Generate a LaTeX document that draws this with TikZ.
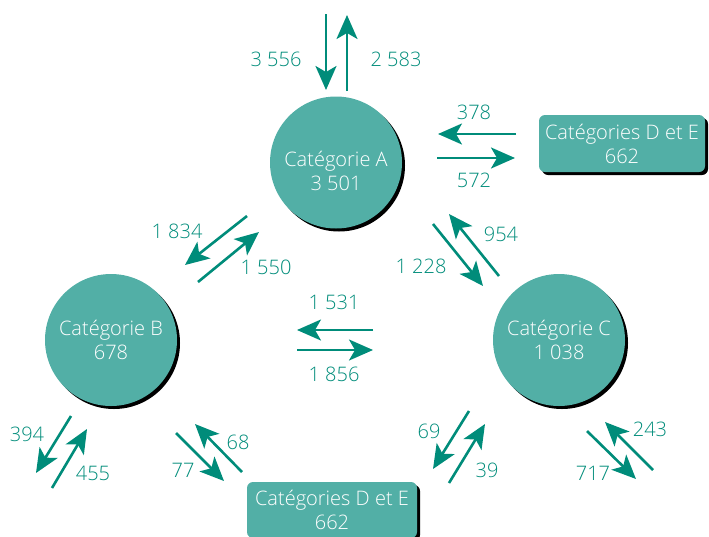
\documentclass[tikz,border=0pt]{standalone}
\usepackage{fontspec}
\setmainfont{Open Sans}[UprightFont=* Light]
\usetikzlibrary{arrows.meta,shadows}
\definecolor{flux}{HTML}{008C7A}
\definecolor{categ}{HTML}{52AFA6}

\begin{document}
\begin{tikzpicture}[x=1pt,y=-1pt,
    txt/.style={font=\fontsize{20}{24}\selectfont},
    cat/.style={txt,circle,fill=categ,text=white,minimum size=132pt,inner sep=0pt,align=center,
      drop shadow={shadow xshift=3pt,shadow yshift=-3pt,fill=black,opacity=1}},
    other/.style={txt,rectangle,rounded corners=6pt,fill=categ,text=white,align=center,inner sep=0pt,
      drop shadow={shadow xshift=3pt,shadow yshift=-3pt,fill=black,opacity=1}},
    num/.style={txt,text=flux,inner sep=0pt},
    fl/.style={draw=flux,line width=2.6pt,-{Stealth[length=24pt,width=21pt,inset=6pt]}}]
      \useasboundingbox (0,0) rectangle (709,536);
      % categories
      \node[cat] (catA) at (336,162.5) {};
      \node[txt,text=white,align=center,inner sep=0pt] (catA-t) at ([yshift=-8pt]catA) {Catégorie A\\3 501};
      \node[cat] (catB) at (111,340) {Catégorie B\\678};
      \node[cat] (catC) at (559,340) {Catégorie C\\1 038};
      \node[other,minimum width=166pt,minimum height=57pt] (deA) at (622,143.5) {Catégories D et E\\662};
      \node[other,minimum width=170pt,minimum height=56pt] (deB) at (332,510) {Catégories D et E\\662};
      % end points of the flows
      \coordinate (inA-s) at (326,14);   \coordinate (inA-e) at (326,90);
      \coordinate (outA-s) at (347,91);  \coordinate (outA-e) at (347,15);
      \coordinate (deA1-s) at (516,134); \coordinate (deA1-e) at (438,134);
      \coordinate (deA2-s) at (437,158); \coordinate (deA2-e) at (515,158);
      \coordinate (ab-s) at (247,216);   \coordinate (ab-e) at (185,265);
      \coordinate (ba-s) at (198,282);   \coordinate (ba-e) at (259,232);
      \coordinate (ac-s) at (433,224);   \coordinate (ac-e) at (483,286);
      \coordinate (ca-s) at (499,276);   \coordinate (ca-e) at (449,214);
      \coordinate (cb-s) at (373,330);   \coordinate (cb-e) at (297,330);
      \coordinate (bc-s) at (297,350);   \coordinate (bc-e) at (373,350);
      \coordinate (outB-s) at (71,416);  \coordinate (outB-e) at (36,473);
      \coordinate (inB-s) at (52,488);   \coordinate (inB-e) at (87,429);
      \coordinate (bde-s) at (176,433);  \coordinate (bde-e) at (224,481);
      \coordinate (deb-s) at (242,472);  \coordinate (deb-e) at (195,424);
      \coordinate (cde-s) at (469,411);  \coordinate (cde-e) at (433,469);
      \coordinate (dec-s) at (449,483);  \coordinate (dec-e) at (485,424);
      \coordinate (outC-s) at (587,431); \coordinate (outC-e) at (636,479);
      \coordinate (inC-s) at (653,470);  \coordinate (inC-e) at (605,422);
      % flows
      \draw[fl] (inA-s) -- (inA-e);
      \draw[fl] (outA-s) -- (outA-e);
      \draw[fl] (deA1-s) -- (deA1-e);
      \draw[fl] (deA2-s) -- (deA2-e);
      \draw[fl] (ab-s) -- (ab-e);
      \draw[fl] (ba-s) -- (ba-e);
      \draw[fl] (ac-s) -- (ac-e);
      \draw[fl] (ca-s) -- (ca-e);
      \draw[fl] (cb-s) -- (cb-e);
      \draw[fl] (bc-s) -- (bc-e);
      \draw[fl] (outB-s) -- (outB-e);
      \draw[fl] (inB-s) -- (inB-e);
      \draw[fl] (bde-s) -- (bde-e);
      \draw[fl] (deb-s) -- (deb-e);
      \draw[fl] (cde-s) -- (cde-e);
      \draw[fl] (dec-s) -- (dec-e);
      \draw[fl] (outC-s) -- (outC-e);
      \draw[fl] (inC-s) -- (inC-e);
      % values
      \node[num] (n-inA) at (276,59) {3 556};
      \node[num] (n-outA) at (396,59) {2 583};
      \node[num] (n-deA1) at (474,112) {378};
      \node[num] (n-deA2) at (474,180) {572};
      \node[num] (n-ab) at (177,231) {1 834};
      \node[num] (n-ba) at (266,267) {1 550};
      \node[num] (n-ac) at (421,266) {1 228};
      \node[num] (n-ca) at (501,234) {954};
      \node[num] (n-cb) at (334,302) {1 531};
      \node[num] (n-bc) at (334,374) {1 856};
      \node[num] (n-outB) at (27,434) {394};
      \node[num] (n-inB) at (93,473) {455};
      \node[num] (n-bde) at (183,470) {77};
      \node[num] (n-deb) at (238,442) {68};
      \node[num] (n-cde) at (429,431) {69};
      \node[num] (n-dec) at (487,470) {39};
      \node[num] (n-inC) at (650,429) {243};
      \node[num] (n-outC) at (593,473) {717};
\end{tikzpicture}
\end{document}
